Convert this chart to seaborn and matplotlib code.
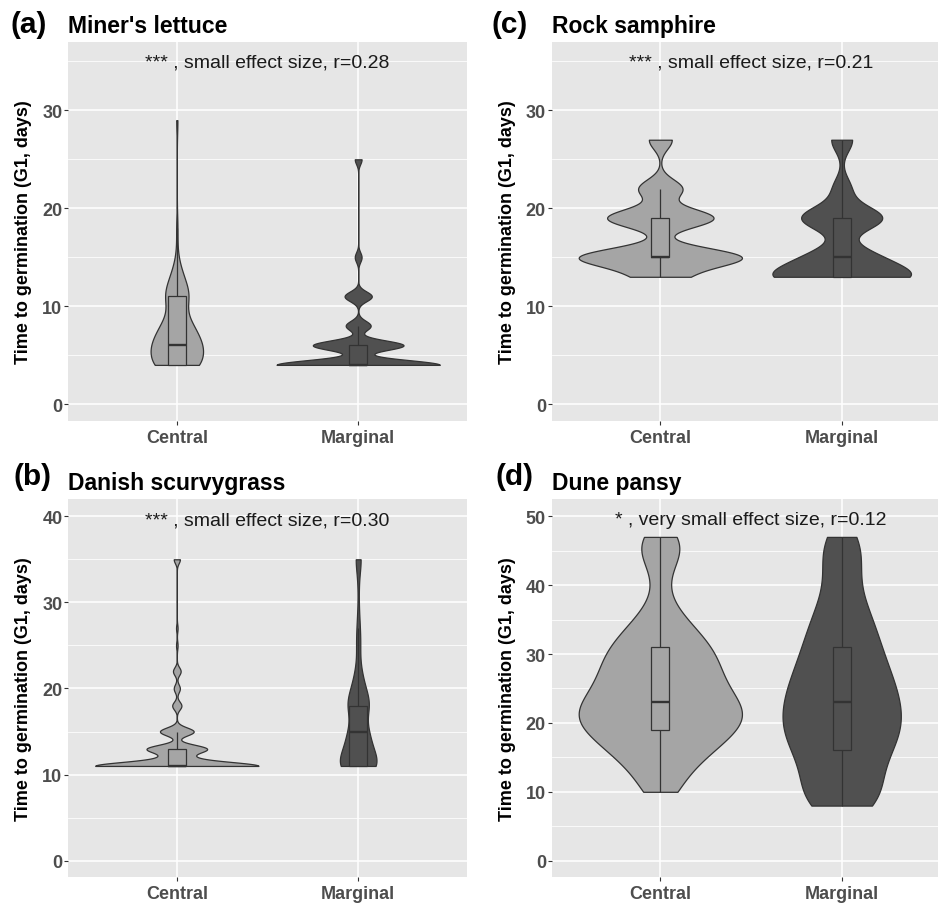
import numpy as np
import pandas as pd
import matplotlib
matplotlib.use("Agg")
import matplotlib.pyplot as plt
import seaborn as sns
from matplotlib.ticker import MultipleLocator

# DATA: germination day and number of seeds per day
sites = ["Central", "Marginal"]
site_colors = ["#A5A5A5", "#505050"]

# (a) Miner's lettuce
days_a_central = [4, 6, 8, 11, 13, 15, 18, 29]
n_a_central = [28, 28, 18, 16, 7, 1, 1, 1]
days_a_marginal = [4, 6, 8, 11, 15, 25]
n_a_marginal = [72, 40, 11, 12, 3, 3]

# (b) Danish scurvygrass
days_b_central = [11, 12, 13, 15, 18, 20, 22, 25, 27, 35]
n_b_central = [105, 14, 38, 22, 6, 4, 5, 1, 1, 4]
days_b_marginal = [11, 13, 15, 18, 20, 22, 25, 27, 29, 32, 35]
n_b_marginal = [90, 45, 42, 51, 24, 12, 9, 6, 3, 3, 15]

# (c) Rock samphire
days_c_central = [13, 15, 19, 22, 27]
n_c_central = [21, 76, 51, 21, 11]
days_c_marginal = [13, 15, 19, 22, 27]
n_c_marginal = [111, 51, 73, 16, 19]

# (d) Dune pansy
days_d_central = [10, 11, 13, 15, 17, 19, 21, 23, 25, 27, 29, 31, 33, 35, 37, 39, 41, 43, 45, 47]
n_d_central = [9, 6, 12, 21, 27, 36, 42, 36, 30, 27, 27, 24, 18, 12, 6, 3, 3, 6, 12, 12]
days_d_marginal = [8, 10, 12, 14, 16, 18, 20, 22, 23, 25, 27, 29, 31, 33, 35, 37, 39, 41, 43, 45, 47]
n_d_marginal = [21, 15, 12, 15, 18, 21, 24, 15, 15, 21, 18, 15, 15, 12, 12, 9, 6, 6, 6, 9, 9]

tags = ["(a)", "(b)", "(c)", "(d)"]
titles = ["Miner's lettuce", "Danish scurvygrass", "Rock samphire", "Dune pansy"]
notes = ["*** , small effect size, r=0.28", "*** , small effect size, r=0.30",
         "*** , small effect size, r=0.21", "* , very small effect size, r=0.12"]
note_y = [34.9, 39.6, 34.9, 49.5]
ylims = [(-1.7, 36.95), (-1.86, 42.0), (-1.7, 36.95), (-2.32, 52.5)]


def make_df(d_c, n_c, d_m, n_m):
    return pd.DataFrame({
        "site": ["Central"] * sum(n_c) + ["Marginal"] * sum(n_m),
        "days": np.concatenate([np.repeat(d_c, n_c), np.repeat(d_m, n_m)]),
    })


frames = [
    make_df(days_a_central, n_a_central, days_a_marginal, n_a_marginal),
    make_df(days_b_central, n_b_central, days_b_marginal, n_b_marginal),
    make_df(days_c_central, n_c_central, days_c_marginal, n_c_marginal),
    make_df(days_d_central, n_d_central, days_d_marginal, n_d_marginal),
]


# bandwidth like R's bw.nrd0 (what ggplot's geom_violin uses)
def nrd0(kde):
    x = np.asarray(kde.dataset[0])
    sd = np.std(x, ddof=1)
    q75, q25 = np.percentile(x, [75, 25])
    lo = min(sd, (q75 - q25) / 1.34)
    if lo <= 0:
        lo = sd
    return 0.9 * lo * len(x) ** -0.2 / sd


plt.rcParams["font.family"] = ["Liberation Sans", "DejaVu Sans"]

W, H = 938, 904
fig = plt.figure(figsize=(W / 100, H / 100), dpi=100)

# panel boxes in pixels: left, top, right, bottom
boxes = [(68, 43.3, 467, 421.7), (68, 500, 467, 877.7),
         (551.5, 43.3, 950.5, 421.7), (551.5, 500, 950.5, 877.7)]
tag_xy = [(10, 33.3), (13, 485), (491.5, 33.3), (495, 485)]

for i in range(4):
    l, t, r, b = boxes[i]
    ax = fig.add_axes([l / W, 1 - b / H, (r - l) / W, (b - t) / H])
    ax.set_facecolor("#E6E6E6")
    df = frames[i]

    sns.violinplot(data=df, x="site", y="days", hue="site", order=sites, hue_order=sites,
                   palette=site_colors, ax=ax, cut=0, width=0.9, density_norm="area",
                   common_norm=True, bw_method=nrd0, gridsize=512, inner=None,
                   linewidth=0.9, linecolor="#333333", saturation=1, legend=False)
    sns.boxplot(data=df, x="site", y="days", hue="site", order=sites, hue_order=sites,
                palette=site_colors, ax=ax, width=0.1, showfliers=False, showcaps=False,
                linewidth=0.9, linecolor="#333333", saturation=1, legend=False,
                medianprops={"linewidth": 1.7})

    ax.set_xlim(-0.6, 1.6)
    ax.set_ylim(*ylims[i])
    ax.yaxis.set_major_locator(MultipleLocator(10))
    ax.yaxis.set_minor_locator(MultipleLocator(5))
    ax.grid(which="major", color="white", linewidth=1.1)
    ax.grid(which="minor", axis="y", color="white", linewidth=0.55)
    ax.set_axisbelow(True)
    for s in ax.spines.values():
        s.set_visible(False)
    ax.tick_params(which="major", length=3, width=0.8, color="#333333",
                   labelcolor="#4D4D4D", labelsize=13)
    ax.tick_params(axis="y", pad=1)
    ax.tick_params(axis="x", pad=3)
    ax.tick_params(which="minor", length=0)
    for lbl in ax.get_xticklabels() + ax.get_yticklabels():
        lbl.set_fontweight("bold")

    ax.set_xlabel("")
    ax.set_ylabel("Time to germination (G1, days)", fontsize=13, fontweight="bold",
                  color="black", va="center")
    ax.yaxis.set_label_coords(-0.111, 0.5)

    ax.text(0.5, note_y[i], notes[i], ha="center", va="center", fontsize=14, color="#1A1A1A")
    ax.set_title(titles[i], loc="left", fontsize=16.5, fontweight="bold", pad=7.2)
    fig.text(tag_xy[i][0] / W, 1 - tag_xy[i][1] / H, tags[i], fontsize=21.5,
             fontweight="bold", va="baseline", ha="left")

fig.savefig("out.png", dpi=100)
